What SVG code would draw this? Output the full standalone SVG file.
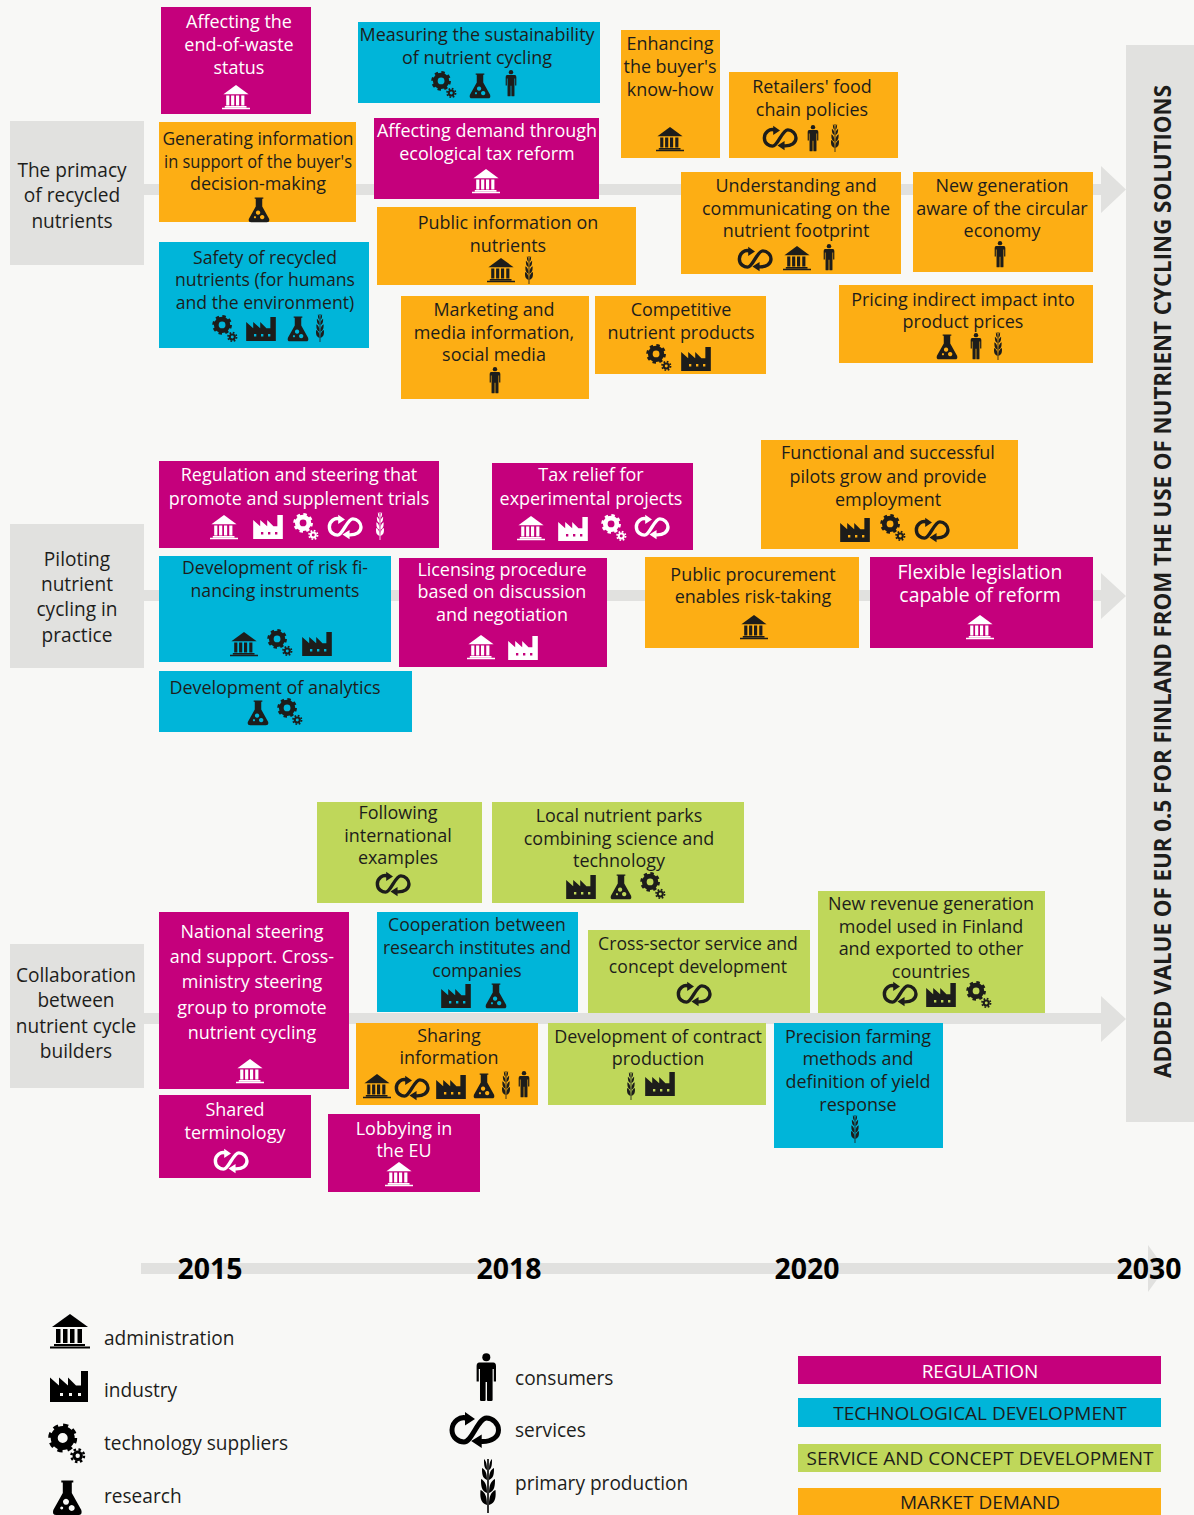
<svg xmlns="http://www.w3.org/2000/svg" width="1194" height="1515" viewBox="0 0 1194 1515">
<style>
text{font-family:"Open Sans","Noto Sans","Liberation Sans",sans-serif;fill:currentColor}
.t,.l,.y{transform-box:fill-box;transform-origin:center}
.k{transform-box:fill-box;transform-origin:left center;transform:scaleX(.955)}
.t{font-size:19px;text-anchor:middle;transform:scaleX(.945)}
.w93 .t{transform:scaleX(.928)}
.w92{transform:scaleX(.918)!important}
.w87{transform:scaleX(.865)!important}
.l{font-size:20px;text-anchor:middle;fill:#1d1d1b;transform:scaleX(.955)}
.k{font-size:20px;fill:#1d1d1b}
.y{font-size:29px;font-weight:700;text-anchor:middle;fill:#000;transform:scaleX(.98)}
.c{font-size:19px;text-anchor:middle}
.m{color:#fff}.m rect{fill:#c5007c}
.b{color:#1d1d1b}.b rect{fill:#00b5d9}
.g{color:#1d1d1b}.g rect{fill:#bfd75a}
.o{color:#1d1d1b}.o rect{fill:#fdae14}
.lab{fill:#e1e1df}
.band{fill:#e1e1df}
</style>
<defs>
<g id="a0" fill="currentColor"><path d="M-18-4L0-17L18-4Z"/><path d="M-14-2h4.500v14h-4.500zM-7-2h4.500v14h-4.500zM0-2h4.500v14h-4.500zM7.500-2h4.500v14h-4.500zM-16 13h31v2h-31zM-20 15.500h40v2h-40z"/></g>
<path id="i0" fill="currentColor" fill-rule="evenodd" d="M-19 15.500V-9L-10-1V-9L-1-1V-9L7-1H12V-15.500H19V15.500ZM-9 6.500v3h3v-3ZM0 6.500v3h3v-3ZM9 6.500v3h3v-3Z"/>
<g id="g0" fill="none" stroke="currentColor"><g transform="translate(-4.300 -6)"><circle r="8.500" stroke-width="7"/><circle r="12.500" stroke-width="4" stroke-dasharray="5 4.820"/></g><g transform="translate(10.700 11.700)"><circle r="3.700" stroke-width="3"/><circle r="6.300" stroke-width="2.500" stroke-dasharray="2.500 2.450"/></g></g>
<path id="f0" fill="currentColor" fill-rule="evenodd" d="M-6-17.500H6V-15.500H4.500V-5L14 12Q15.500 17 11 17H-11Q-15.500 17-14 12L-4.500-5V-15.500H-6ZM-1.300 .700a3 3 0 1 0 .01 0ZM4.400 7a3 3 0 1 0 .01 0ZM-5.600 8.500a1.500 1.500 0 1 0 .01 0Z"/>
<g id="p0" fill="currentColor"><circle cy="-19.700" r="4"/><path d="M-7-14.500H7Q9.700-14.500 9.700-11V4.500H7.500V-8H6.300V23Q6.300 24 5 24H1.800Q.7 24 .7 23V5H-.7V23Q-.7 24-1.800 24H-5Q-6.300 24-6.300 23V-8H-7.500V4.500H-9.700V-11Q-9.700-14.500-7-14.500Z"/></g>
<g id="s0"><path fill="none" stroke="currentColor" stroke-width="5" d="M-7-11.300C-15-15-23-8-23 0C-23 8-16 12-11 12C-3 12 3-12 11.500-12C18-12 23.500-6 23.500 0C23.500 7 17 12 6 11.500"/><path fill="currentColor" d="M-10-18L0-11L-10-4.500ZM6.700 4.500L-3.800 11L6.700 18Z"/></g>
<g id="w0" fill="currentColor"><path d="M-.8-27h1.600v54h-1.600z"/><path id="lf" d="M-1 19C-8 17-8 10-7.500 4C-3 6-1 10-1 19ZM-1 7C-7 5-7-1-7-7C-3-5-1-1-1 7ZM-1-6C-6-8-6-13-6-18C-2.500-16-1-13-1-6ZM-1-16C-4-18-4-22-4-27C-2-25-1-22-1-16Z"/><use href="#lf" transform="scale(-1 1)"/></g>
<use id="a" href="#a0" transform="scale(.7)"/>
<use id="i" href="#i0" transform="scale(.78)"/>
<use id="e" href="#g0" transform="scale(.68)"/>
<use id="f" href="#f0" transform="scale(.72)"/>
<use id="p" href="#p0" transform="scale(.55)"/>
<use id="s" href="#s0" transform="scale(.68)"/>
<use id="w" href="#w0" transform="scale(.52)"/>
</defs>
<rect width="1194" height="1515" fill="#f8f8f6"/>
<g id="connectors">
<path class="band" d="M144 184H1101V166L1126 189.500L1101 213V195H144Z"/>
<path class="band" d="M144 590H1101V573L1126 596L1101 619V601H144Z"/>
<path class="band" d="M144 1013H1101V996L1126 1019L1101 1042V1024H144Z"/>
<path class="band" d="M141 1263H1148V1245L1165 1268.500L1148 1292V1274H141Z"/>
</g>
<g id="outcome"><rect class="lab" x="1126" y="45" width="68" height="1077"/>
<text transform="translate(1171 1078) rotate(-90)" font-size="23" font-weight="700" style="fill:#1d1d1b" textLength="993" lengthAdjust="spacingAndGlyphs">ADDED VALUE OF EUR 0.5 FOR FINLAND FROM THE USE OF NUTRIENT CYCLING SOLUTIONS</text></g>

<g id="theme-primacy"><rect class="lab" x="10" y="121" width="134" height="144"/><text class="l" x="72" y="177">The primacy</text><text class="l" x="72" y="202">of recycled</text><text class="l" x="72" y="228">nutrients</text></g>
<g id="theme-piloting"><rect class="lab" x="10" y="524" width="134" height="144"/><text class="l" x="77" y="566">Piloting</text><text class="l" x="77" y="591">nutrient</text><text class="l" x="77" y="616">cycling in</text><text class="l" x="77" y="642">practice</text></g>
<g id="theme-collab"><rect class="lab" x="10" y="944" width="134" height="144"/><text class="l" x="76" y="982">Collaboration</text><text class="l" x="76" y="1007">between</text><text class="l" x="76" y="1033">nutrient cycle</text><text class="l" x="76" y="1058">builders</text></g>

<g id="n1" class="m"><rect x="161" y="7" width="150" height="107"/><text class="t" x="239" y="28">Affecting the</text><text class="t" x="239" y="51">end-of-waste</text><text class="t" x="239" y="74">status</text><use href="#a" x="236" y="97"/></g>
<g id="n2" class="b"><rect x="358" y="22" width="242" height="81"/><text class="t" x="477" y="41">Measuring the sustainability</text><text class="t" x="477" y="64">of nutrient cycling</text><use href="#e" x="444" y="85"/><use href="#f" x="480" y="86"/><use href="#p" x="511" y="83"/></g>
<g id="n3" class="o"><rect x="621" y="30" width="99" height="128"/><text class="t" x="670" y="50">Enhancing</text><text class="t" x="670" y="73">the buyer's</text><text class="t" x="670" y="96">know-how</text><use href="#a" x="670" y="139"/></g>
<g id="n4" class="o"><rect x="729" y="72" width="169" height="86"/><text class="t" x="812" y="93">Retailers' food</text><text class="t" x="812" y="116">chain policies</text><use href="#s" x="780" y="138"/><use href="#p" x="813" y="138"/><use href="#w" x="835" y="138"/></g>
<g id="n5" class="o"><rect x="159" y="122" width="197" height="100"/><text class="t w92" x="258" y="145">Generating information</text><text class="t w87" x="258" y="168">in support of the buyer's</text><text class="t" x="258" y="190">decision-making</text><use href="#f" x="259" y="210"/></g>
<g id="n6" class="m"><rect x="374" y="118" width="225" height="81"/><text class="t" x="487" y="137">Affecting demand through</text><text class="t" x="487" y="160">ecological tax reform</text><use href="#a" x="486" y="181"/></g>
<g id="n7" class="o"><rect x="681" y="172" width="220" height="102"/><text class="t" x="796" y="192">Understanding and</text><text class="t" x="796" y="215">communicating on the</text><text class="t" x="796" y="237">nutrient footprint</text><use href="#s" x="755" y="259"/><use href="#a" x="797" y="258"/><use href="#p" x="829" y="257"/></g>
<g id="n8" class="o"><rect x="913" y="172" width="180" height="100"/><text class="t" x="1002" y="192">New generation</text><text class="t" x="1002" y="215">aware of the circular</text><text class="t" x="1002" y="237">economy</text><use href="#p" x="1000" y="254"/></g>
<g id="n9" class="b w93"><rect x="159" y="242" width="210" height="106"/><text class="t" x="265" y="264">Safety of recycled</text><text class="t" x="265" y="286">nutrients (for humans</text><text class="t" x="265" y="309">and the environment)</text><use href="#e" x="225" y="329"/><use href="#i" x="261" y="329"/><use href="#f" x="298" y="329"/><use href="#w" x="320" y="328"/></g>
<g id="n10" class="o"><rect x="377" y="207" width="259" height="78"/><text class="t" x="508" y="229">Public information on</text><text class="t" x="508" y="252">nutrients</text><use href="#a" x="501" y="270"/><use href="#w" x="529" y="270"/></g>
<g id="n11" class="o"><rect x="401" y="296" width="188" height="103"/><text class="t" x="494" y="316">Marketing and</text><text class="t" x="494" y="339">media information,</text><text class="t" x="494" y="361">social media</text><use href="#p" x="495" y="380"/></g>
<g id="n12" class="o"><rect x="595" y="296" width="171" height="78"/><text class="t" x="681" y="316">Competitive</text><text class="t" x="681" y="339">nutrient products</text><use href="#e" x="659" y="358"/><use href="#i" x="696" y="359"/></g>
<g id="n13" class="o"><rect x="839" y="285" width="254" height="78"/><text class="t" x="963" y="306">Pricing indirect impact into</text><text class="t" x="963" y="328">product prices</text><use href="#f" x="947" y="347"/><use href="#p" x="976" y="346"/><use href="#w" x="998" y="346"/></g>

<g id="n14" class="m"><rect x="159" y="461" width="280" height="87"/><text class="t" x="299" y="481">Regulation and steering that</text><text class="t" x="299" y="505">promote and supplement trials</text><use href="#a" x="224" y="527"/><use href="#i" x="268" y="527"/><use href="#e" x="306" y="527"/><use href="#s" x="345" y="527"/><use href="#w" x="380" y="526"/></g>
<g id="n15" class="m"><rect x="492" y="463" width="201" height="87"/><text class="t" x="591" y="481">Tax relief for</text><text class="t" x="591" y="505">experimental projects</text><use href="#a" x="531" y="528"/><use href="#i" x="573" y="529"/><use href="#e" x="614" y="528"/><use href="#s" x="652" y="527"/></g>
<g id="n16" class="o"><rect x="761" y="440" width="257" height="109"/><text class="t" x="888" y="459">Functional and successful</text><text class="t" x="888" y="483">pilots grow and provide</text><text class="t" x="888" y="506">employment</text><use href="#i" x="855" y="530"/><use href="#e" x="893" y="528"/><use href="#s" x="932" y="530"/></g>
<g id="n17" class="b w93"><rect x="159" y="556" width="232" height="106"/><text class="t" x="275" y="574">Development of risk fi-</text><text class="t" x="275" y="597">nancing instruments</text><use href="#a" x="244" y="644"/><use href="#e" x="280" y="643"/><use href="#i" x="317" y="644"/></g>
<g id="n18" class="m"><rect x="399" y="558" width="208" height="109"/><text class="t" x="502" y="576">Licensing procedure</text><text class="t" x="502" y="598">based on discussion</text><text class="t" x="502" y="621">and negotiation</text><use href="#a" x="481" y="647"/><use href="#i" x="523" y="648"/></g>
<g id="n19" class="o"><rect x="645" y="557" width="214" height="91"/><text class="t" x="753" y="581">Public procurement</text><text class="t" x="753" y="603">enables risk-taking</text><use href="#a" x="754" y="627"/></g>
<g id="n20" class="m"><rect x="870" y="557" width="223" height="91"/><text class="t" style="font-size:20.500px" x="980" y="579">Flexible legislation</text><text class="t" style="font-size:20.500px" x="980" y="602">capable of reform</text><use href="#a" x="980" y="627"/></g>
<g id="n21" class="b"><rect x="159" y="671" width="253" height="61"/><text class="t" x="275" y="694">Development of analytics</text><use href="#f" x="258" y="713"/><use href="#e" x="290" y="712"/></g>

<g id="n22" class="g"><rect x="317" y="802" width="165" height="101"/><text class="t" x="398" y="819">Following</text><text class="t" x="398" y="842">international</text><text class="t" x="398" y="864">examples</text><use href="#s" x="393" y="884"/></g>
<g id="n23" class="g"><rect x="492" y="802" width="252" height="101"/><text class="t" x="619" y="822">Local nutrient parks</text><text class="t" x="619" y="845">combining science and</text><text class="t" x="619" y="867">technology</text><use href="#i" x="581" y="887"/><use href="#f" x="621" y="887"/><use href="#e" x="653" y="886"/></g>
<g id="n24" class="g"><rect x="818" y="891" width="227" height="122"/><text class="t" x="931" y="910">New revenue generation</text><text class="t" x="931" y="933">model used in Finland</text><text class="t" x="931" y="955">and exported to other</text><text class="t" x="931" y="978">countries</text><use href="#s" x="900" y="994"/><use href="#i" x="941" y="995"/><use href="#e" x="979" y="995"/></g>
<g id="n25" class="m"><rect x="159" y="912" width="190" height="177"/><text class="t" x="252" y="938">National steering</text><text class="t" x="252" y="963">and support. Cross-</text><text class="t" x="252" y="988">ministry steering</text><text class="t" x="252" y="1014">group to promote</text><text class="t" x="252" y="1039">nutrient cycling</text><use href="#a" x="250" y="1071"/></g>
<g id="n26" class="b w93"><rect x="377" y="912" width="201" height="100"/><text class="t" x="477" y="931">Cooperation between</text><text class="t" x="477" y="954">research institutes and</text><text class="t" x="477" y="977">companies</text><use href="#i" x="456" y="996"/><use href="#f" x="496" y="996"/></g>
<g id="n27" class="g w93"><rect x="588" y="930" width="222" height="83"/><text class="t" x="698" y="950">Cross-sector service and</text><text class="t" x="698" y="973">concept development</text><use href="#s" x="694" y="994"/></g>
<g id="n28" class="o"><rect x="356" y="1023" width="182" height="82"/><text class="t" x="449" y="1042">Sharing</text><text class="t" x="449" y="1064">information</text><use href="#a" x="377" y="1086"/><use href="#s" x="412" y="1088"/><use href="#i" x="451" y="1087"/><use href="#f" x="484" y="1086"/><use href="#w" x="506" y="1085"/><use href="#p" x="524" y="1084"/></g>
<g id="n29" class="g"><rect x="548" y="1023" width="218" height="82"/><text class="t" x="658" y="1043">Development of contract</text><text class="t" x="658" y="1065">production</text><use href="#w" x="631" y="1086"/><use href="#i" x="660" y="1084"/></g>
<g id="n30" class="b"><rect x="774" y="1023" width="169" height="125"/><text class="t" x="858" y="1043">Precision farming</text><text class="t" x="858" y="1065">methods and</text><text class="t" x="858" y="1088">definition of yield</text><text class="t" x="858" y="1111">response</text><use href="#w" x="855" y="1129"/></g>
<g id="n31" class="m"><rect x="159" y="1095" width="152" height="83"/><text class="t" x="235" y="1116">Shared</text><text class="t" x="235" y="1139">terminology</text><use href="#s" x="231" y="1161"/></g>
<g id="n32" class="m"><rect x="328" y="1114" width="152" height="78"/><text class="t" x="404" y="1135">Lobbying in</text><text class="t" x="404" y="1157">the EU</text><use href="#a" x="399" y="1174"/></g>

<g id="timeline"><text class="y" x="210" y="1279">2015</text><text class="y" x="509" y="1279">2018</text><text class="y" x="807" y="1279">2020</text><text class="y" x="1149" y="1279">2030</text></g>

<g id="legend" color="#000">
<use href="#a0" x="70" y="1331"/><text class="k" x="104" y="1345">administration</text>
<use href="#i0" x="69" y="1386.500"/><text class="k" x="104" y="1397">industry</text>
<use href="#g0" x="67" y="1444"/><text class="k" x="104" y="1450">technology suppliers</text>
<use href="#f0" x="67.300" y="1498"/><text class="k" x="104" y="1503">research</text>
<use href="#p0" x="486.300" y="1377"/><text class="k" x="515" y="1385">consumers</text>
<use href="#s0" x="475" y="1430"/><text class="k" x="515" y="1437">services</text>
<use href="#w0" x="488" y="1486"/><text class="k" x="515" y="1490">primary production</text>
</g>
<g id="key-regulation" class="m"><rect x="798" y="1356" width="363" height="28"/><text class="c" x="980" y="1378">REGULATION</text></g>
<g id="key-tech" class="b"><rect x="798" y="1398" width="363" height="29"/><text class="c" x="980" y="1420">TECHNOLOGICAL DEVELOPMENT</text></g>
<g id="key-service" class="g"><rect x="798" y="1444" width="363" height="28"/><text class="c" x="980" y="1465">SERVICE AND CONCEPT DEVELOPMENT</text></g>
<g id="key-market" class="o"><rect x="798" y="1488" width="363" height="27"/><text class="c" x="980" y="1509">MARKET DEMAND</text></g>
</svg>
